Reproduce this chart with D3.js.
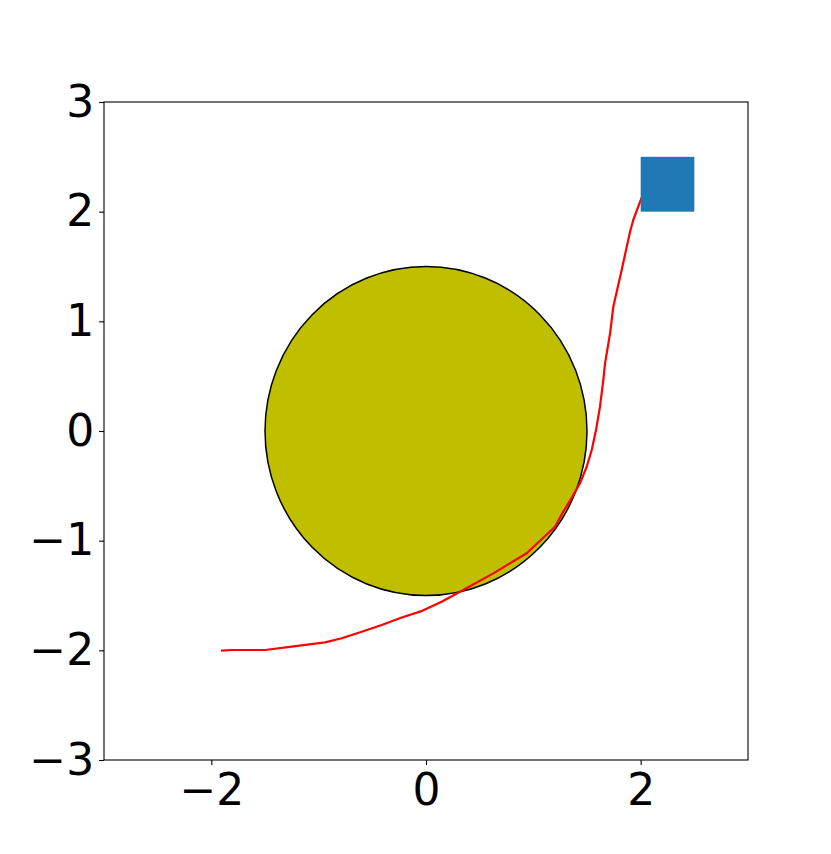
<!DOCTYPE html>
<html><head><meta charset="utf-8">
<script src="https://cdn.jsdelivr.net/npm/d3@7"></script>
<style>body{margin:0;background:#fff}svg{display:block}</style>
</head><body>
<svg id="c" width="831" height="854"></svg>
<script>
const xTicks = [-2, 0, 2];
const yTicks = [-3, -2, -1, 0, 1, 2, 3];
const circle = {cx: 0, cy: 0, r: 1.5};
const square = {x0: 2.0, y0: 2.0, x1: 2.5, y1: 2.5};
const pathX = [-1.910,-1.810,-1.500,-1.251,-0.941,-0.785,-0.599,-0.413,-0.226,-0.050,0.150,0.317,0.627,0.938,1.202,1.279,1.342,1.435,1.497,1.544,1.584,1.621,1.652,1.668,1.715,1.745,1.823,1.901,1.931,2.010];
const pathY = [-2.003,-1.997,-1.997,-1.967,-1.927,-1.890,-1.830,-1.769,-1.700,-1.645,-1.555,-1.465,-1.298,-1.115,-0.873,-0.735,-0.635,-0.477,-0.326,-0.173,0.009,0.222,0.465,0.617,0.891,1.133,1.468,1.817,1.924,2.131];

const svg = d3.select("#c");
const L = 104, R = 748, T = 102, B = 760;
const x = d3.scaleLinear().domain([-3, 3]).range([L, R]);
const y = d3.scaleLinear().domain([-3, 3]).range([B, T]);
const fmt = d => (d < 0 ? "\u2212" + Math.abs(d) : String(d));

svg.append("ellipse")
  .attr("cx", x(circle.cx)).attr("cy", y(circle.cy))
  .attr("rx", x(circle.r) - x(0)).attr("ry", y(0) - y(circle.r))
  .attr("fill", "#bfbf00").attr("stroke", "#000").attr("stroke-width", 1.5);

svg.append("path")
  .datum(pathX.map((v, i) => [v, pathY[i]]))
  .attr("d", d3.line().x(d => x(d[0])).y(d => y(d[1])))
  .attr("fill", "none").attr("stroke", "#ff0000").attr("stroke-width", 2.2)
  .attr("stroke-linejoin", "round");

svg.append("rect")
  .attr("x", x(square.x0)).attr("y", y(square.y1))
  .attr("width", x(square.x1) - x(square.x0)).attr("height", y(square.y0) - y(square.y1))
  .attr("fill", "#1f77b4");

const xAxis = svg.append("g").attr("transform", `translate(0,${B})`)
  .call(d3.axisBottom(x).tickValues(xTicks).tickFormat(fmt).tickSize(4.9).tickPadding(4.9));
const yAxis = svg.append("g").attr("transform", `translate(${L},0)`)
  .call(d3.axisLeft(y).tickValues(yTicks).tickFormat(fmt).tickSize(4.9).tickPadding(4.9));
[xAxis, yAxis].forEach(g => {
  g.selectAll(".domain").remove();
  g.selectAll("line").attr("stroke", "#000").attr("stroke-width", 1.1);
  g.selectAll("text").attr("font-family", "DejaVu Sans").attr("font-size", 44).attr("fill", "#000");
});
xAxis.selectAll("text").attr("dy", "0.8em");

svg.append("rect").attr("x", L).attr("y", T).attr("width", R - L).attr("height", B - T)
  .attr("fill", "none").attr("stroke", "#000").attr("stroke-width", 1.1);
</script>
</body></html>
